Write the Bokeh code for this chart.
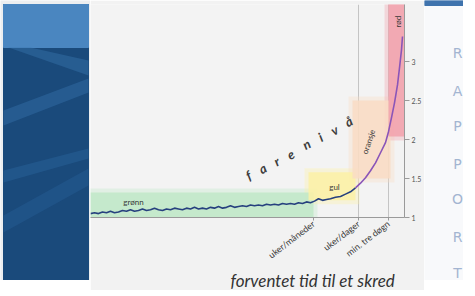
from bokeh.plotting import figure
from bokeh.layouts import row, column
from bokeh.models import Range1d, FixedTicker, Title
from bokeh.core.properties import value
from bokeh.embed import file_html
from bokeh.resources import INLINE

# ---------------- data ----------------
t = [0, 4, 8, 12, 16, 20, 24, 28, 32, 36, 40, 44, 48, 52, 56, 60, 64, 68, 72, 76,
     80, 84, 88, 92, 96, 100, 104, 108, 112, 116, 120, 124, 128, 132, 136, 140,
     144, 148, 152, 156, 160, 164, 168, 172, 176, 180, 184, 188, 192, 196, 200,
     204, 208, 212, 216, 220, 224, 228, 232, 236, 240, 245, 250, 255, 260, 265]
level = [1.05, 1.06, 1.05, 1.07, 1.06, 1.08, 1.06, 1.07, 1.09, 1.08, 1.10, 1.08,
         1.09, 1.11, 1.09, 1.10, 1.12, 1.10, 1.09, 1.11, 1.10, 1.12, 1.11, 1.10,
         1.12, 1.11, 1.13, 1.11, 1.12, 1.11, 1.13, 1.12, 1.14, 1.12, 1.13, 1.15,
         1.13, 1.14, 1.15, 1.14, 1.16, 1.15, 1.16, 1.15, 1.17, 1.16, 1.17, 1.16,
         1.18, 1.17, 1.18, 1.17, 1.19, 1.18, 1.20, 1.19, 1.21, 1.24, 1.22, 1.23,
         1.24, 1.26, 1.27, 1.30, 1.33, 1.38]
t_late = [265, 270, 275, 280, 285, 290, 295, 298, 301, 304, 307, 309, 311, 312]
level_late = [1.38, 1.44, 1.51, 1.60, 1.70, 1.83, 1.96, 2.10, 2.28, 2.47, 2.70,
              2.92, 3.15, 3.32]

zone_names = ["grønn", "gul", "oransje", "rød"]
zone_left = [0, 218, 262, 298]
zone_right = [223, 265, 300, 314]
zone_bottom = [1.0, 1.22, 1.50, 2.04]
zone_top = [1.32, 1.58, 2.50, 3.74]
zone_colors = ["#bfe8c8", "#fbf1a6", "#f9dcc4", "#f2a1ab"]

label_x = [43, 244, 278, 307]
label_y = [1.205, 1.385, 1.97, 3.51]
label_angle = [0, 0, 1.25, 1.5708]

time_ticks = [223, 268, 298]
time_labels = ["uker/måneder", "uker/dager", "min. tre døgn"]
level_ticks = [1, 1.5, 2, 2.5, 3]

fare_letters = ["f", "a", "r", "e", "n", "i", "v", "å"]
fare_x = [158, 172, 186, 200, 216, 230, 244, 258]
fare_y = [1.54, 1.63, 1.72, 1.81, 1.94, 2.03, 2.12, 2.23]

rapport_letters = ["R", "A", "P", "P", "O", "R", "T"]
rapport_y = [228, 190, 155, 117, 82, 44, 8]

H = 280

# ---------------- left decorative panel ----------------
left = figure(width=90, height=H, x_range=Range1d(0, 90), y_range=Range1d(0, H),
              x_axis_location=None, y_axis_location=None,
              output_backend="svg", toolbar_location=None,
              min_border=0, outline_line_color=None)
left.grid.visible = False
left.background_fill_color = "#eceef0"
left.border_fill_color = "#eceef0"
left.quad(left=3, right=88, bottom=0, top=276, color="#1a4a7b")
left.quad(left=3, right=88, bottom=233, top=276, color="#4a86c0")
left.patch([30, 88, 88, 8], [233, 220, 205, 233], color="#3370a8", alpha=0.5, line_color=None)
left.patch([3, 88, 88, 3], [170, 202, 188, 155], color="#3572aa", alpha=0.45, line_color=None)
left.patch([3, 88, 88, 3], [110, 132, 122, 98], color="#2e6aa2", alpha=0.4, line_color=None)
left.patch([3, 88, 88, 3], [65, 112, 95, 48], color="#2b659d", alpha=0.35, line_color=None)

# ---------------- main chart ----------------
p = figure(frame_width=314, frame_height=213, x_range=Range1d(0, 314),
           y_range=Range1d(1, 3.731), y_axis_location="right",
           output_backend="svg", toolbar_location=None,
           min_border_left=0, min_border_top=4, min_border_right=16,
           min_border_bottom=0, outline_line_color=None)
p.background_fill_color = "#f3f3f3"
p.border_fill_color = "#f2f2f2"

for grow, a in [(4, 0.35), (0, 0.85)]:
    p.quad(left=[v - grow for v in zone_left], right=[v + grow for v in zone_right],
           bottom=[v - grow / 78 for v in zone_bottom], top=[v + grow / 78 for v in zone_top],
           color=zone_colors, alpha=a, line_color=None)

p.line(t, level, line_color="#26407e", line_width=1.6)
p.line(t_late, level_late, line_color="#8a55b8", line_width=1.6)

p.text(label_x, label_y, text=zone_names, angle=label_angle,
       text_font=value("Lato"), text_font_size="8px", text_color="#3a3a3a",
       text_align="center", text_baseline="middle")

p.text(fare_x, fare_y, text=fare_letters, angle=0.5,
       text_font=value("Lato"), text_font_size="13px", text_font_style="bold italic",
       text_color="#3c3c3c", text_align="center", text_baseline="middle")

p.xgrid.ticker = FixedTicker(ticks=[268, 298])
p.xgrid.grid_line_color = "#c4c4c4"
p.ygrid.visible = False

p.xaxis.ticker = FixedTicker(ticks=time_ticks)
p.xaxis.major_label_overrides = {k: v for k, v in zip(time_ticks, time_labels)}
p.xaxis.major_label_orientation = 0.65
p.xaxis.major_label_text_font = "Lato"
p.xaxis.major_label_text_font_size = "9px"
p.xaxis.major_label_text_color = "#3a3a3a"
p.xaxis.major_tick_out = 3
p.xaxis.major_tick_in = 0
p.xaxis.minor_tick_line_color = None
p.xaxis.axis_line_color = "#9a9a9a"
p.xaxis.major_tick_line_color = "#9a9a9a"
p.xaxis.major_label_standoff = 2

p.yaxis.ticker = FixedTicker(ticks=level_ticks)
p.yaxis.major_label_text_font = "Lato"
p.yaxis.major_label_text_font_size = "7px"
p.yaxis.major_label_text_color = "#555555"
p.yaxis.major_tick_out = 5
p.yaxis.major_tick_in = 0
p.yaxis.minor_tick_line_color = None
p.yaxis.axis_line_color = "#9a9a9a"
p.yaxis.major_tick_line_color = "#9a9a9a"
p.yaxis.major_label_standoff = 2

p.add_layout(Title(text="forventet tid til et skred", align="left", offset=140,
                   text_font="Lato", text_font_size="17px", text_font_style="italic",
                   text_color="#333333", standoff=0), "below")

# ---------------- right decorative panel ----------------
right = figure(width=39, height=H, x_range=Range1d(0, 39), y_range=Range1d(0, H),
               x_axis_location=None, y_axis_location=None,
               output_backend="svg", toolbar_location=None,
               min_border=0, outline_line_color=None)
right.grid.visible = False
right.background_fill_color = "#f8f9fb"
right.border_fill_color = "#f8f9fb"
right.quad(left=0, right=39, bottom=275, top=H, color="#3f73ad")
right.text([33] * len(rapport_letters), rapport_y, text=rapport_letters,
           text_font=value("DejaVu Sans"), text_font_size="14px", text_color="#a3b5d1",
           text_align="center", text_baseline="middle")

layout = row(column(left), p, column(right), spacing=0)
open("out.html", "w").write(file_html(layout, INLINE))
